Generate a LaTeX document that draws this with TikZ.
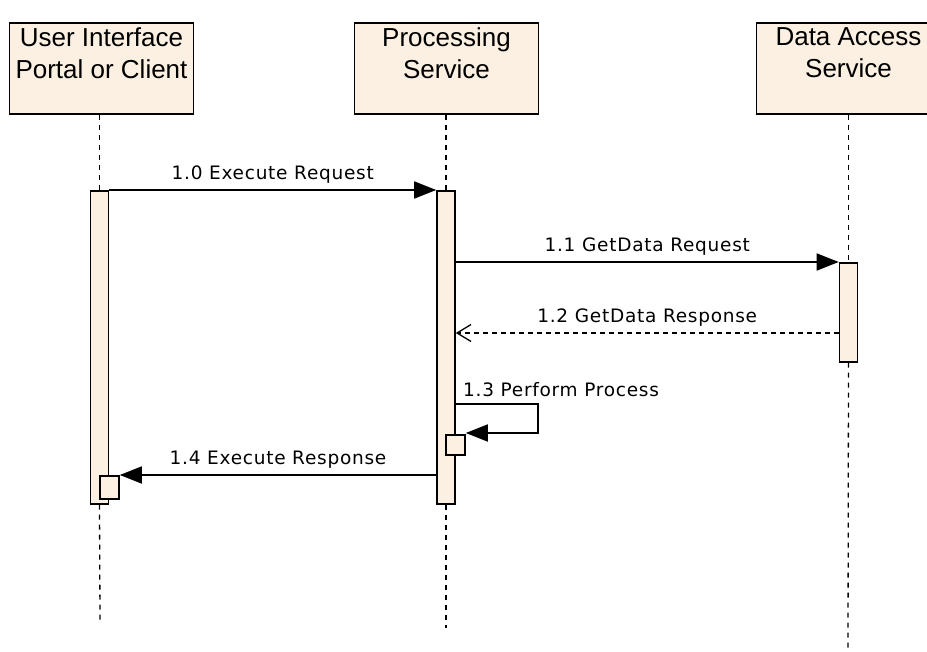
\documentclass[tikz,border=0pt]{standalone}
\usepackage{fontspec}
\setmainfont{Liberation Sans}
\newfontfamily\msgfont[LetterSpace=4]{DejaVu Sans}
\usetikzlibrary{arrows.meta}
\definecolor{lifebg}{RGB}{251,240,225}
\tikzset{>=stealth}
\tikzset{
  actor/.style={draw,fill=lifebg,line width=1.6pt,minimum width=184pt,
    minimum height=91pt,anchor=north,inner sep=0pt},
  actortext/.style={anchor=north,align=center,inner sep=0pt,
    font=\fontsize{26}{32}\selectfont},
  bar/.style={draw,fill=lifebg,line width=1.6pt,minimum width=18pt,
    anchor=north,inner sep=0pt},
  lifeline/.style={line width=1.3pt,dash pattern=on 5pt off 5pt},
  call/.style={line width=1.7pt,-{Triangle[length=22pt,width=17pt]}},
  reply/.style={line width=1.5pt,dash pattern=on 5pt off 4pt,
    -{Straight Barb[length=14pt,width=17pt,line width=1.3pt]}},
  msglabel/.style={font=\msgfont\fontsize{18.5}{21}\selectfont,inner sep=0pt}
}
\begin{document}
\begin{tikzpicture}[x=1pt,y=-1pt]
    \useasboundingbox (0,0) rectangle (927,652);
    % heads of the three lifelines
    \node[actor] (ui) at (101.5,22) {};
    \node[actor] (ps) at (446.5,22) {};
    \node[actor] (da) at (848.5,22) {};
    \node[actortext] (uitext) at (101.5,27) {User Interface\\Portal or Client};
    \node[actortext] (pstext) at (446.5,27) {Processing\\Service};
    \node[actortext] (datext) at (848.5,27) {Data Access\\Service};
    % ends of the lifelines
    \coordinate (uiend) at (100,620);
    \coordinate (psend) at (446,628);
    \coordinate (daend) at (848,652);
    % activations
    \node[bar,minimum height=313pt] (uibar) at (99.5,190) {};
    \node[bar,minimum height=313pt] (psbar) at (446,190) {};
    \node[bar,minimum height=99pt] (dabar) at (848.5,262) {};
    \node[bar,minimum width=19pt,minimum height=20pt] (psact) at (455.5,434) {};
    \node[bar,minimum width=19pt,minimum height=23pt] (uiact) at (109.5,475) {};
    \draw[lifeline] (ui.south -| uibar) -- (uibar.north);
    \draw[lifeline] (uibar.south) -- (uiend);
    \draw[lifeline] (ps.south -| psbar) -- (psbar.north);
    \draw[lifeline] (psbar.south) -- (psend);
    \draw[lifeline] (da.south -| dabar) -- (dabar.north);
    \draw[lifeline] (dabar.south) -- (daend);
    % messages
    \draw[call] (uibar.north east) -- (psbar.north west)
        node[msglabel,midway,above=6pt] (m10) {1.0 Execute Request};
    \draw[call] (psbar.east |- dabar.north) -- (dabar.north west)
        node[msglabel,midway,above=6pt] (m11) {1.1 GetData Request};
    \coordinate (resp) at (700,333);
    \draw[reply] (dabar.west |- resp) -- (psbar.east |- resp)
        node[msglabel,midway,above=6pt] (m12) {1.2 GetData Response};
    \coordinate (selfa) at (538,404);
    \coordinate (selfb) at (538,433);
    \draw[call] (psbar.east |- selfa) -- (selfa) -- (selfb) -- (psact.east |- selfb);
    \node[msglabel,anchor=south west] (m13) at (463,397) {1.3 Perform Process};
    \coordinate (back) at (300,475);
    \draw[call] (psbar.west |- back) -- (uiact.east |- back)
        node[msglabel,midway,above=6pt] (m14) {1.4 Execute Response};
\end{tikzpicture}
\end{document}
